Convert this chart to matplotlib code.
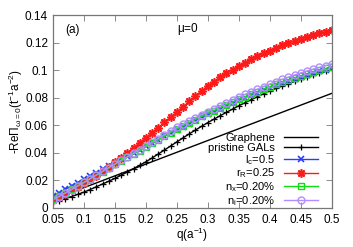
import matplotlib
matplotlib.use('Agg')
import matplotlib.pyplot as plt
from matplotlib.ticker import FuncFormatter

plt.rcParams['font.family'] = ['Liberation Sans', 'DejaVu Sans']
plt.rcParams['mathtext.fontset'] = 'custom'
plt.rcParams['mathtext.rm'] = 'Liberation Sans'
plt.rcParams['mathtext.it'] = 'Liberation Sans'

q = [0.05, 0.06, 0.07, 0.08, 0.09, 0.10, 0.11, 0.12, 0.13, 0.14,
     0.15, 0.16, 0.17, 0.18, 0.19, 0.20, 0.21, 0.22, 0.23, 0.24,
     0.25, 0.26, 0.27, 0.28, 0.29, 0.30, 0.31, 0.32, 0.33, 0.34,
     0.35, 0.36, 0.37, 0.38, 0.39, 0.40, 0.41, 0.42, 0.43, 0.44,
     0.45, 0.46, 0.47, 0.48, 0.49, 0.50]

graphene_q = [0.05, 0.50]
graphene = [0.0062, 0.0832]

pristine = [0.0040, 0.0054, 0.0068, 0.0083, 0.0099, 0.0115, 0.0134, 0.0154, 0.0174, 0.0194,
            0.0215, 0.0238, 0.0261, 0.0285, 0.0310, 0.0335, 0.0363, 0.0392, 0.0421, 0.0450,
            0.0480, 0.0509, 0.0538, 0.0566, 0.0593, 0.0620, 0.0645, 0.0670, 0.0694, 0.0718,
            0.0742, 0.0764, 0.0786, 0.0808, 0.0829, 0.0850, 0.0868, 0.0886, 0.0903, 0.0919,
            0.0935, 0.0950, 0.0964, 0.0978, 0.0992, 0.1005]

lc = [0.0085, 0.0110, 0.0135, 0.0160, 0.0184, 0.0208, 0.0232, 0.0256, 0.0280, 0.0304,
      0.0328, 0.0352, 0.0376, 0.0400, 0.0424, 0.0448, 0.0472, 0.0496, 0.0520, 0.0544,
      0.0567, 0.0590, 0.0613, 0.0635, 0.0657, 0.0679, 0.0700, 0.0721, 0.0741, 0.0761,
      0.0781, 0.0800, 0.0819, 0.0837, 0.0855, 0.0872, 0.0889, 0.0905, 0.0921, 0.0936,
      0.0951, 0.0965, 0.0979, 0.0992, 0.1004, 0.1016]

rR = [0.0060, 0.0082, 0.0105, 0.0129, 0.0154, 0.0180, 0.0207, 0.0235, 0.0266, 0.0298,
      0.0331, 0.0366, 0.0401, 0.0437, 0.0473, 0.0510, 0.0547, 0.0584, 0.0621, 0.0658,
      0.0695, 0.0735, 0.0774, 0.0812, 0.0849, 0.0884, 0.0917, 0.0948, 0.0977, 0.1004,
      0.1030, 0.1055, 0.1079, 0.1101, 0.1122, 0.1142, 0.1162, 0.1181, 0.1198, 0.1214,
      0.1228, 0.1242, 0.1255, 0.1267, 0.1278, 0.1288]

nx = [0.0062, 0.0086, 0.0111, 0.0136, 0.0161, 0.0186, 0.0212, 0.0238, 0.0264, 0.0290,
      0.0316, 0.0341, 0.0367, 0.0392, 0.0417, 0.0443, 0.0469, 0.0495, 0.0521, 0.0547,
      0.0573, 0.0597, 0.0620, 0.0642, 0.0664, 0.0686, 0.0707, 0.0728, 0.0748, 0.0768,
      0.0788, 0.0807, 0.0826, 0.0844, 0.0862, 0.0880, 0.0897, 0.0913, 0.0929, 0.0944,
      0.0959, 0.0973, 0.0987, 0.1000, 0.1013, 0.1025]

ni = [0.0058, 0.0083, 0.0108, 0.0134, 0.0159, 0.0185, 0.0212, 0.0239, 0.0266, 0.0293,
      0.0320, 0.0346, 0.0372, 0.0398, 0.0424, 0.0450, 0.0477, 0.0504, 0.0531, 0.0558,
      0.0585, 0.0609, 0.0632, 0.0655, 0.0678, 0.0700, 0.0721, 0.0742, 0.0763, 0.0784,
      0.0805, 0.0824, 0.0843, 0.0862, 0.0881, 0.0900, 0.0917, 0.0933, 0.0949, 0.0965,
      0.0980, 0.0994, 0.1007, 0.1020, 0.1033, 0.1045]

fig = plt.figure(figsize=(3.53, 2.47), dpi=100)
ax = fig.add_axes([0.150, 0.158, 0.790, 0.781])

fs = 8.5
ax.plot(graphene_q, graphene, color='black', lw=1.0, label='Graphene')
ax.plot(q, pristine, color='black', lw=1.0, marker='+', ms=5, mew=0.9, label='pristine GALs')
ax.plot(q, lc, color='#2b3cff', lw=1.0, marker='x', ms=4, mew=1.2, label=r'l$_\mathregular{c}$=0.5')
ax.plot(q, rR, color='#ff1a1a', lw=1.0, marker=(8, 2, 0), ms=6, mew=1.2, label=r'r$_\mathregular{R}$=0.25')
ax.plot(q, nx, color='#11dd11', lw=1.0, marker='s', ms=4.5, mew=1.0, mfc='none', label=r'n$_\mathregular{x}$=0.20%')
ax.plot(q, ni, color='#b38cff', lw=1.0, marker='o', ms=5, mew=1.0, mfc='none', label=r'n$_\mathregular{i}$=0.20%')

ax.set_xlim(0.05, 0.5)
ax.set_ylim(0, 0.14)
ax.set_xticks([0.05, 0.1, 0.15, 0.2, 0.25, 0.3, 0.35, 0.4, 0.45, 0.5])
ax.set_yticks([0, 0.02, 0.04, 0.06, 0.08, 0.1, 0.12, 0.14])
fmt = FuncFormatter(lambda v, p: '%g' % round(v, 3))
ax.xaxis.set_major_formatter(fmt)
ax.yaxis.set_major_formatter(fmt)
ax.tick_params(direction='in', length=4, width=0.6, color='#777777',
               top=True, right=True, labelsize=fs)
ax.tick_params(axis='x', pad=4.5)
ax.tick_params(axis='y', pad=3.5)
for s in ax.spines.values():
    s.set_color('#777777')
    s.set_linewidth(0.9)

ax.set_xlabel(r'q(a$^\mathregular{-1}$)', fontsize=fs, labelpad=0)
ax.set_ylabel(r'-Re$\Pi_{\omega\mathregular{=0}}$(t$^\mathregular{-1}$a$^\mathregular{-2}$)',
              fontsize=fs, labelpad=0)

ax.text(0.043, 0.922, '(a)', transform=ax.transAxes, fontsize=fs, va='center')
ax.text(0.444, 0.93, r'$\mu$=0', transform=ax.transAxes, fontsize=fs, va='center')

leg = ax.legend(loc='lower right', bbox_to_anchor=(0.952, 0.0), frameon=False,
                markerfirst=False, fontsize=8, handlelength=3.1, handletextpad=0.8,
                labelspacing=0.0, borderaxespad=0.0, borderpad=0.0)

fig.savefig('out.png', dpi=100)
